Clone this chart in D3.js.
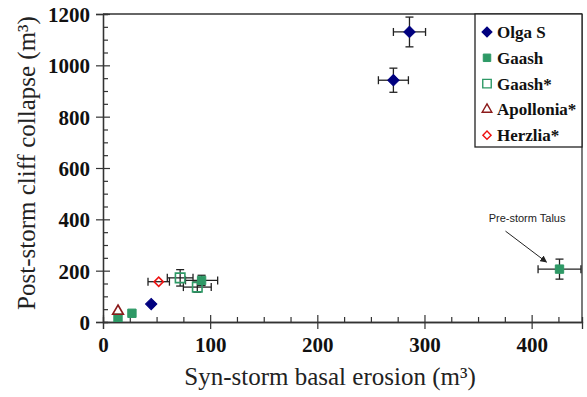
<!DOCTYPE html>
<html><head><meta charset="utf-8">
<script src="https://cdn.jsdelivr.net/npm/d3@7/dist/d3.min.js"></script>
<style>body{margin:0;background:#fff}svg{display:block}
.serif{font-family:"Liberation Serif","Times New Roman",serif;font-weight:400}
.bold{font-weight:700}
</style>
</head><body><svg id="c" width="587" height="397"></svg>
<script>
// ---- data ----
const olgaS      = [{x:286,y:1130,xe:15,ye:58},{x:271,y:942,xe:14,ye:47},{x:45,y:70,xe:0,ye:0}];
const gaash      = [{x:426,y:206,xe:20,ye:39},{x:27,y:34,xe:0,ye:0},{x:14,y:15,xe:0,ye:0},{x:92,y:162,xe:15,ye:20}];
const gaashStar  = [{x:72,y:172,xe:12,ye:32},{x:88,y:136,xe:13,ye:20}];
const apollonia  = [{x:14,y:42,xe:0,ye:0}];
const herzlia    = [{x:52,y:157,xe:10,ye:0}];
const seriesNames = ["Olga S","Gaash","Gaash*","Apollonia*","Herzlia*"];
const xMajor = [0,100,200,300,400];
const yMajor = [0,200,400,600,800,1000,1200];
const annotationText = "Pre-storm Talus";

const svg = d3.select("#c");
const L=103,R=582,T=14,B=322;
const x = d3.scaleLinear().domain([0,447]).range([L,R]);
const y = d3.scaleLinear().domain([0,1200]).range([B,T]);
const axisColor="#333";

svg.append("line").attr("x1",L).attr("x2",R).attr("y1",T).attr("y2",T).attr("stroke",axisColor).attr("stroke-width",1.3);
svg.append("line").attr("x1",R).attr("x2",R).attr("y1",T).attr("y2",B).attr("stroke",axisColor).attr("stroke-width",1.3);

// x axis
const gx = svg.append("g").attr("transform",`translate(0,${B})`);
gx.call(d3.axisBottom(x).tickValues(d3.range(25,447,25).filter(v=>v%100)).tickSize(-5).tickFormat(""));
const gxM = svg.append("g").attr("transform",`translate(0,${B})`)
  .call(d3.axisBottom(x).tickValues(xMajor).tickSize(7).tickPadding(8).tickFormat(d3.format("d")));
gxM.selectAll(".tick line").attr("y1",-7).attr("y2",7);
[gx,gxM].forEach(g=>{g.attr("font-family",null).attr("font-size",null);
  g.select(".domain").attr("stroke",axisColor).attr("stroke-width",1.3);
  g.selectAll(".tick line").attr("stroke",axisColor).attr("stroke-width",1.2);});
gxM.selectAll("text").attr("class","serif bold").style("font-size","21px").attr("fill","#111");

// y axis
const gy = svg.append("g").attr("transform",`translate(${L},0)`);
gy.call(d3.axisLeft(y).tickValues(d3.range(50,1200,50).filter(v=>v%200)).tickSize(-5).tickFormat(""));
const gyM = svg.append("g").attr("transform",`translate(${L},0)`)
  .call(d3.axisLeft(y).tickValues(yMajor).tickSize(7).tickPadding(6).tickFormat(d3.format("d")));
gyM.selectAll(".tick line").attr("x1",-7).attr("x2",7);
[gy,gyM].forEach(g=>{g.attr("font-family",null).attr("font-size",null);
  g.select(".domain").attr("stroke",axisColor).attr("stroke-width",1.3);
  g.selectAll(".tick line").attr("stroke",axisColor).attr("stroke-width",1.2);});
gyM.selectAll("text").attr("class","serif bold").style("font-size","21px").attr("fill","#111").attr("dy","0.35em");

// axis titles
svg.append("text").attr("class","serif").attr("x",330).attr("y",385).attr("text-anchor","middle")
  .style("font-size","25px").attr("fill","#222").text("Syn-storm basal erosion (m³)");
svg.append("text").attr("class","serif").attr("transform",`translate(35,163) rotate(-90)`).attr("text-anchor","middle")
  .style("font-size","25px").attr("fill","#222").text("Post-storm cliff collapse (m³)");

// series definitions (rot: rotate square 45° to make a diamond)
const series = [
  {name:seriesNames[0],data:olgaS,sym:d3.symbolSquare,rot:45,size:64,fill:"#00007f",stroke:"#00007f"},
  {name:seriesNames[1],data:gaash,sym:d3.symbolSquare,rot:0,size:70,fill:"#2e9966",stroke:"#2e9966"},
  {name:seriesNames[2],data:gaashStar,sym:d3.symbolSquare,rot:0,size:90,fill:"none",stroke:"#2e9966"},
  {name:seriesNames[3],data:apollonia,sym:d3.symbolTriangle,rot:0,size:50,fill:"none",stroke:"#8b1a1a"},
  {name:seriesNames[4],data:herzlia,sym:d3.symbolSquare,rot:45,size:42,fill:"none",stroke:"#ee1111"}
];

svg.append("clipPath").attr("id","pc").append("rect").attr("x",L).attr("y",T).attr("width",R-L+2).attr("height",B-T);
const plot = svg.append("g").attr("clip-path","url(#pc)");

// error bars
const eb = plot.append("g").attr("stroke","#222").attr("stroke-width",1.3);
series.forEach(s=>s.data.forEach(d=>{
  if(d.xe>0){
    eb.append("line").attr("x1",x(d.x-d.xe)).attr("x2",x(d.x+d.xe)).attr("y1",y(d.y)).attr("y2",y(d.y));
    [d.x-d.xe,d.x+d.xe].forEach(v=>eb.append("line").attr("x1",x(v)).attr("x2",x(v)).attr("y1",y(d.y)-4).attr("y2",y(d.y)+4));
  }
  if(d.ye>0){
    eb.append("line").attr("x1",x(d.x)).attr("x2",x(d.x)).attr("y1",y(d.y-d.ye)).attr("y2",y(d.y+d.ye));
    [d.y-d.ye,d.y+d.ye].forEach(v=>eb.append("line").attr("x1",x(d.x)-4).attr("x2",x(d.x)+4).attr("y1",y(v)).attr("y2",y(v)));
  }
}));

// points
series.forEach(s=>{
  plot.append("g").selectAll("path").data(s.data).join("path")
    .attr("transform",d=>`translate(${x(d.x)},${y(d.y)}) rotate(${s.rot})`)
    .attr("d",d3.symbol().type(s.sym).size(s.size))
    .attr("fill",s.fill).attr("stroke",s.stroke).attr("stroke-width",s.fill==="none"?1.6:1);
});

// annotation
svg.append("defs").append("marker").attr("id","ah").attr("viewBox","0 0 10 10").attr("refX",9).attr("refY",5)
  .attr("markerWidth",7).attr("markerHeight",7).attr("orient","auto")
  .append("path").attr("d","M0,0L10,5L0,10z").attr("fill","#222");
svg.append("text").attr("x",x(426)).attr("y",y(206)-47).attr("text-anchor","end").attr("dx",6)
  .style("font-family","Liberation Sans, Arial, sans-serif").style("font-size","11px").attr("fill","#222").text(annotationText);
svg.append("line").attr("x1",x(426)-54).attr("y1",y(206)-38).attr("x2",x(426)-13).attr("y2",y(206)-7)
  .attr("stroke","#222").attr("stroke-width",1).attr("marker-end","url(#ah)");

// legend
const lg = svg.append("g").attr("transform","translate(475,14)");
lg.append("rect").attr("width",107).attr("height",133).attr("fill","#fff").attr("stroke","#222").attr("stroke-width",1.3);
series.forEach((s,i)=>{
  const yy = 18 + i*25.8;
  lg.append("path").attr("transform",`translate(12,${yy}) rotate(${s.rot})`).attr("d",d3.symbol().type(s.sym).size(s.size*0.8))
    .attr("fill",s.fill).attr("stroke",s.stroke).attr("stroke-width",s.fill==="none"?1.4:1);
  lg.append("text").attr("class","serif bold").attr("x",22).attr("y",yy).attr("dy","0.35em")
    .style("font-size","17px").attr("fill","#111").text(s.name);
});
</script></body></html>
